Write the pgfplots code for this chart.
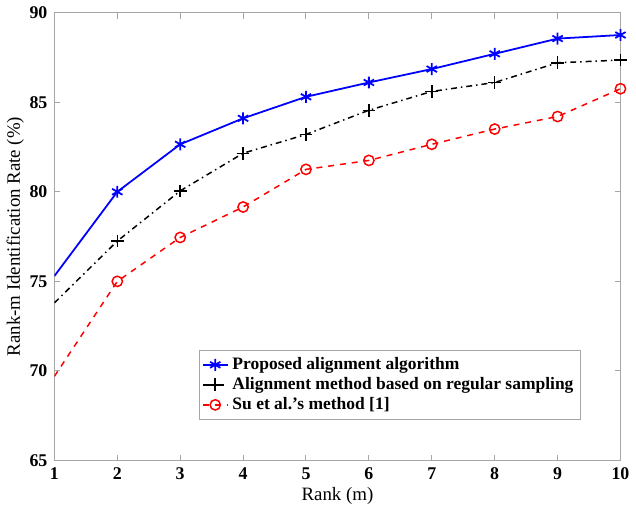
\documentclass[border=0pt]{standalone}
\usepackage{fontspec}
\setmainfont{Liberation Serif}
\usepackage{pgfplots}
\pgfplotsset{compat=1.18}
\begin{document}
\begin{tikzpicture}
\begin{axis}[
  scale only axis,
  width=285bp, height=225.5bp,
  xmin=1, xmax=10, ymin=65, ymax=90,
  xtick={1,...,10}, ytick={65,70,...,90},
  /pgf/number format/assume math mode=true,
  tick label style={font=\fontsize{9bp}{10bp}\selectfont\bfseries},
  label style={font=\fontsize{9.5bp}{11bp}\selectfont},
  xlabel={Rank (m)},
  ylabel={Rank-m Identification Rate (\%)},
  xlabel style={yshift=3bp},
  ylabel style={yshift=-4bp},
  axis line style={gray!70},
  tick style={gray!70, line width=0.5pt},
  major tick length=3bp,
  tick align=inside,
  legend style={font=\fontsize{8.8bp}{10bp}\selectfont\bfseries,
    at={(0.93,0.091)}, anchor=south east, draw=gray!70,
    row sep=-1.5bp, inner sep=1.5bp},
  legend cell align=left,
  legend image code/.code={
    \draw[#1, mark indices={2}] plot coordinates {(0cm,0cm) (0.22cm,0cm) (0.44cm,0cm)};},
]
\addplot[blue, line width=0.9pt, mark=asterisk, mark size=3bp, mark indices={2,...,10}, mark options={solid}] coordinates {
  (1,75.3) (2,80.0) (3,82.65) (4,84.1) (5,85.3) (6,86.1) (7,86.85) (8,87.7) (9,88.55) (10,88.75)
};
\addlegendentry{Proposed alignment algorithm}
\addplot[black, line width=0.75pt, dash dot, mark=+, mark size=3.2bp, mark indices={2,...,10}, mark options={solid}] coordinates {
  (1,73.8) (2,77.25) (3,80.05) (4,82.15) (5,83.2) (6,84.55) (7,85.6) (8,86.1) (9,87.2) (10,87.35)
};
\addlegendentry{Alignment method based on regular sampling}
\addplot[red, line width=0.75pt, dashed, mark=o, mark size=2.6bp, mark indices={2,...,10}, mark options={solid}] coordinates {
  (1,69.7) (2,75.0) (3,77.45) (4,79.15) (5,81.25) (6,81.75) (7,82.65) (8,83.5) (9,84.2) (10,85.75)
};
\addlegendentry{Su et al.'s method [1]}
\end{axis}
\end{tikzpicture}
\end{document}
